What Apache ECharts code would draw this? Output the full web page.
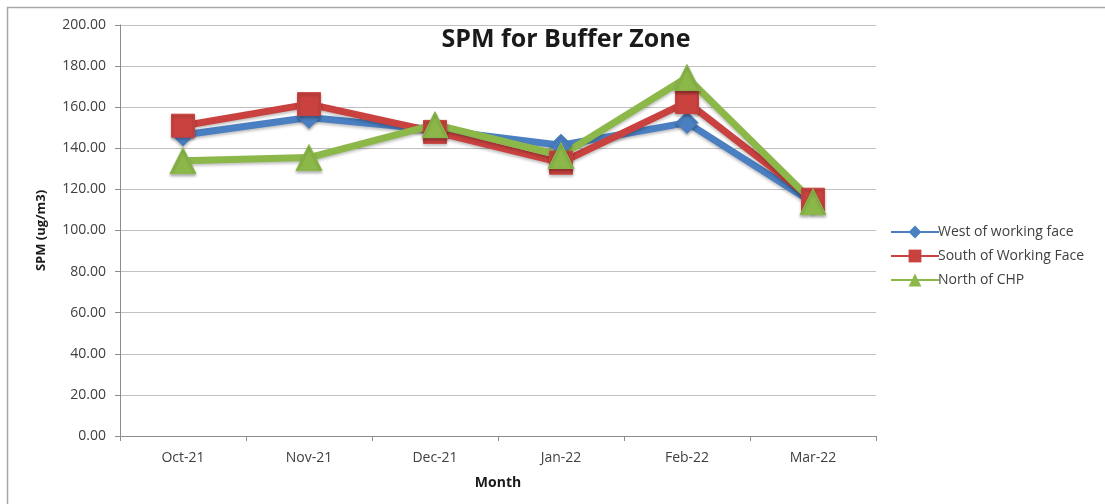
<!DOCTYPE html>
<html>
<head>
<meta charset="utf-8">
<script src="https://cdn.jsdelivr.net/npm/echarts@6/dist/echarts.min.js"></script>
<style>
html,body{margin:0;padding:0;background:#fff;}
#chart{width:1105px;height:504px;}
</style>
</head>
<body>
<div id="chart"></div>
<script>
// 月份
var months = ["Oct-21", "Nov-21", "Dec-21", "Jan-22", "Feb-22", "Mar-22"];
// SPM 数据
var westFace = [146.5, 155.0, 149.0, 141.5, 152.5, 113.5];
var southFace = [151.0, 161.5, 148.0, 133.0, 162.5, 115.0];
var northChp = [134.0, 135.5, 151.5, 136.5, 174.5, 114.0];
var seriesNames = ["West of working face", "South of Working Face", "North of CHP"];

var fontFam = "'Open Sans', 'Liberation Sans', sans-serif";
var mycharts = echarts.init(document.getElementById("chart"));

function makeSeries(name, data, color, symbol, size) {
	return {
		name: name,
		type: "line",
		data: data,
		symbol: symbol,
		symbolSize: size,
		showAllSymbol: true,
		lineStyle: {
			width: 7,
			color: color,
			shadowColor: "rgba(0,0,0,0.25)",
			shadowBlur: 3,
			shadowOffsetY: 2
		},
		itemStyle: {
			color: color,
			borderColor: color,
			shadowColor: "rgba(0,0,0,0.3)",
			shadowBlur: 3,
			shadowOffsetY: 2
		},
		emphasis: { disabled: true }
	};
}

var option = {
	animation: false,
	title: {
		text: "SPM for Buffer Zone",
		left: 561,
		textAlign: "center",
		top: 22,
		textStyle: { fontFamily: fontFam, fontWeight: "bold", fontSize: 25, color: "#1a1a1a" }
	},
	graphic: [{
		type: "rect",
		shape: { x: 7.5, y: 7.5, width: 1110, height: 510 },
		style: { fill: "none", stroke: "#a6a6a6", lineWidth: 1.5 },
		z: -1
	}],
	legend: {
		orient: "vertical",
		left: 885,
		top: 220,
		itemGap: 10,
		itemWidth: 48,
		itemHeight: 16,
		data: seriesNames,
		textStyle: { fontFamily: fontFam, fontSize: 14, color: "#404040", padding: [0, 0, 0, -6] }
	},
	grid: { left: 120, top: 25, width: 756, height: 411 },
	xAxis: {
		type: "category",
		data: months,
		boundaryGap: true,
		name: "Month",
		nameLocation: "middle",
		nameGap: 40,
		nameTextStyle: { fontFamily: fontFam, fontWeight: "bold", fontSize: 14, color: "#1a1a1a" },
		axisLine: { lineStyle: { color: "#8c8c8c", width: 1 } },
		axisTick: { show: true, length: 5, lineStyle: { color: "#8c8c8c" } },
		axisLabel: { margin: 15, fontFamily: fontFam, fontSize: 14, color: "#404040" }
	},
	yAxis: {
		type: "value",
		min: 0,
		max: 200,
		interval: 20,
		name: "SPM (ug/m3)",
		nameLocation: "middle",
		nameGap: 72,
		nameRotate: 90,
		nameTextStyle: { fontFamily: fontFam, fontWeight: "bold", fontSize: 13, color: "#1a1a1a" },
		axisLine: { show: true, lineStyle: { color: "#8c8c8c", width: 1 } },
		axisTick: { show: true, length: 5, lineStyle: { color: "#8c8c8c" } },
		axisLabel: {
			margin: 14,
			fontFamily: fontFam,
			fontSize: 14,
			color: "#404040",
			formatter: function (v) { return v.toFixed(2); }
		},
		splitLine: { lineStyle: { color: "#c0c0c0", width: 1 } }
	},
	series: [
		makeSeries(seriesNames[0], westFace, "#4a7fc1", "diamond", 22),
		makeSeries(seriesNames[1], southFace, "#c9423f", "rect", 23),
		makeSeries(seriesNames[2], northChp, "#8cb84a", "triangle", 26)
	]
};
mycharts.setOption(option);
</script>
</body>
</html>
